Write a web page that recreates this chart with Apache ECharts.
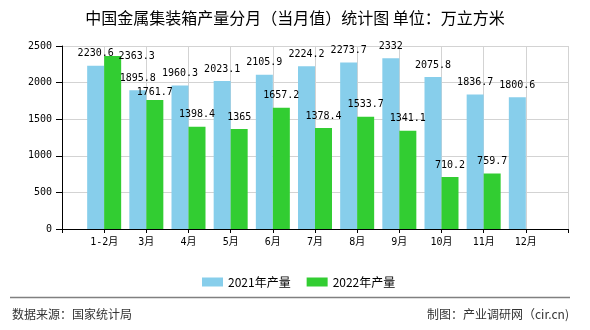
<!DOCTYPE html>
<html>
<head>
<meta charset="utf-8">
<script src="https://cdn.jsdelivr.net/npm/echarts@6/dist/echarts.min.js"></script>
<style>
html,body{margin:0;padding:0;background:#fff;}
#main{width:590px;height:330px;}
</style>
</head>
<body>
<div id="main"></div>
<script>
var categories = ['1-2月','3月','4月','5月','6月','7月','8月','9月','10月','11月','12月'];
var values2021 = [2230.6, 1895.8, 1960.3, 2023.1, 2105.9, 2224.2, 2273.7, 2332, 2075.8, 1836.7, 1800.6];
var values2022 = [2363.3, 1761.7, 1398.4, 1365, 1657.2, 1378.4, 1533.7, 1341.1, 710.2, 759.7];
var yTicks = [0, 500, 1000, 1500, 2000, 2500];
var seriesNames = ['2021年产量', '2022年产量'];

var numFont = 'DejaVu Sans Mono';
var cjkFont = 'Noto Sans CJK SC';

// pad axis with empty slots on both ends
var axisData = [''].concat(categories).concat(['']);
function pad(arr) {
  var out = [null];
  for (var i = 0; i < categories.length; i++) {
    out.push(i < arr.length ? arr[i] : null);
  }
  out.push(null);
  return out;
}
var d2021 = pad(values2021);
var d2022 = pad(values2022).map(function (v, i) {
  if (v === null) return null;
  if (i === 1) return { value: v, label: { offset: [24, 12] } };
  if (i === 2) return { value: v, label: { offset: [0, 4] } };
  return v;
});

var labelStyle = {
  show: true,
  position: 'top',
  distance: 7,
  color: '#000',
  fontFamily: numFont + ',' + cjkFont,
  fontSize: 10
};

var chart = echarts.init(document.getElementById('main'), null, { renderer: 'canvas' });
chart.setOption({
  animation: false,
  backgroundColor: '#fff',
  title: {
    text: '中国金属集装箱产量分月（当月值）统计图 单位：万立方米',
    left: 'center',
    top: 5,
    textStyle: { fontFamily: cjkFont, fontSize: 16, fontWeight: 'normal', color: '#000' }
  },
  legend: {
    data: seriesNames,
    left: 197,
    top: 271,
    icon: 'rect',
    itemWidth: 21,
    itemHeight: 9,
    itemGap: 16,
    textStyle: { fontFamily: cjkFont, fontSize: 12, color: '#000' }
  },
  grid: { left: 62, right: 22, top: 46, bottom: 101, containLabel: false },
  xAxis: {
    type: 'category',
    data: axisData,
    boundaryGap: false,
    axisLine: { lineStyle: { color: '#000', width: 1 } },
    axisTick: { show: true, length: 4, lineStyle: { color: '#000' } },
    axisLabel: { color: '#000', fontFamily: numFont + ',' + cjkFont, fontSize: 10, margin: 8, interval: 0 },
    splitLine: { show: true, lineStyle: { color: '#d3d3d3', width: 1 } }
  },
  yAxis: {
    type: 'value',
    min: yTicks[0],
    max: yTicks[yTicks.length - 1],
    interval: yTicks[1] - yTicks[0],
    axisLine: { show: true, lineStyle: { color: '#000', width: 1 } },
    axisTick: { show: true, length: 6, lineStyle: { color: '#000' } },
    axisLabel: {
      color: '#000', fontFamily: numFont, fontSize: 10, margin: 10,
      formatter: function (v) { return String(v); }
    },
    splitLine: { show: true, lineStyle: { color: '#d3d3d3', width: 1 } }
  },
  series: [
    {
      name: seriesNames[0],
      type: 'bar',
      data: d2021,
      barWidth: 17,
      barGap: '0%',
      itemStyle: { color: '#87CEEB' },
      label: labelStyle
    },
    {
      name: seriesNames[1],
      type: 'bar',
      data: d2022,
      barWidth: 17,
      barGap: '0%',
      itemStyle: { color: '#32CD32' },
      label: labelStyle
    }
  ],
  graphic: [
    {
      type: 'line',
      shape: { x1: 10, y1: 297.5, x2: 570, y2: 297.5 },
      style: { stroke: '#808080', lineWidth: 1.5 }
    },
    {
      type: 'text',
      left: 12,
      top: 308,
      style: { text: '数据来源：国家统计局', fontFamily: cjkFont, fontSize: 12, fill: '#333' }
    },
    {
      type: 'text',
      right: 21,
      top: 308,
      style: { text: '制图：产业调研网（cir.cn)', fontFamily: cjkFont, fontSize: 12, fill: '#333' }
    }
  ]
});
</script>
</body>
</html>
